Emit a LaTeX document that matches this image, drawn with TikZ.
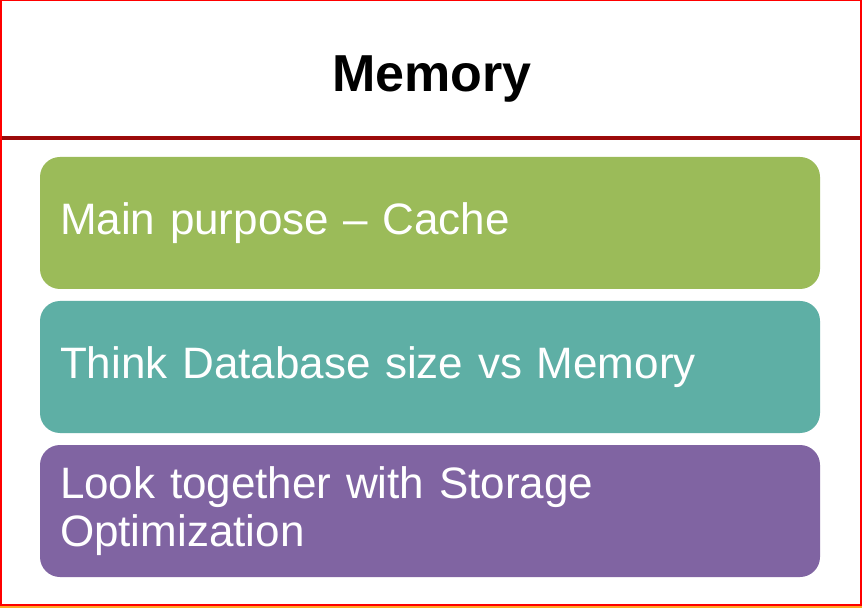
\documentclass[tikz,border=0pt]{standalone}
\usepackage{fontspec}
\setmainfont{Liberation Sans}
\usepackage{tikz}
\usetikzlibrary{positioning}
\definecolor{boxgreen}{HTML}{9BBB59}
\definecolor{boxteal}{HTML}{5EAFA5}
\definecolor{boxpurple}{HTML}{8064A2}
\definecolor{rulered}{HTML}{9C0A0A}
\definecolor{framered}{HTML}{FF0000}
\definecolor{frameorange}{HTML}{FFA726}
\tikzset{
	box/.style = { fill=#1, rounded corners=20pt, text=white, align=left,
		text width=740pt, minimum width=780pt, minimum height=132pt,
		inner xsep=20pt, inner ysep=0pt,
		font=\fontsize{44}{48}\selectfont },
	title/.style = { font=\fontsize{52}{56}\selectfont\bfseries, text=black },
}

\begin{document}
\begin{tikzpicture}[x=1pt,y=-1pt]
\useasboundingbox (0,0) rectangle (862,609);
% frame
\fill[white] (0,0) rectangle (862,609);
\draw[frameorange, line width=2.5pt] (0,607) -- (862,607);
\draw[framered, line width=1.5pt] (0.75,0.75) rectangle (861,605);
% title
\node[title, anchor=base] (heading) at (432,92) {Memory};
\draw[rulered, line width=4pt] (1.5,138) -- (860,138);
% boxes
\node[box=boxgreen]  (cache)    at (430,223) {Main purpose -- Cache};
\node[box=boxteal]   (dbsize)   at (430,367) {Think Database size vs Memory};
\node[box=boxpurple] (storage)  at (430,511) {Look together with Storage\\Optimization};
\end{tikzpicture}
\end{document}
